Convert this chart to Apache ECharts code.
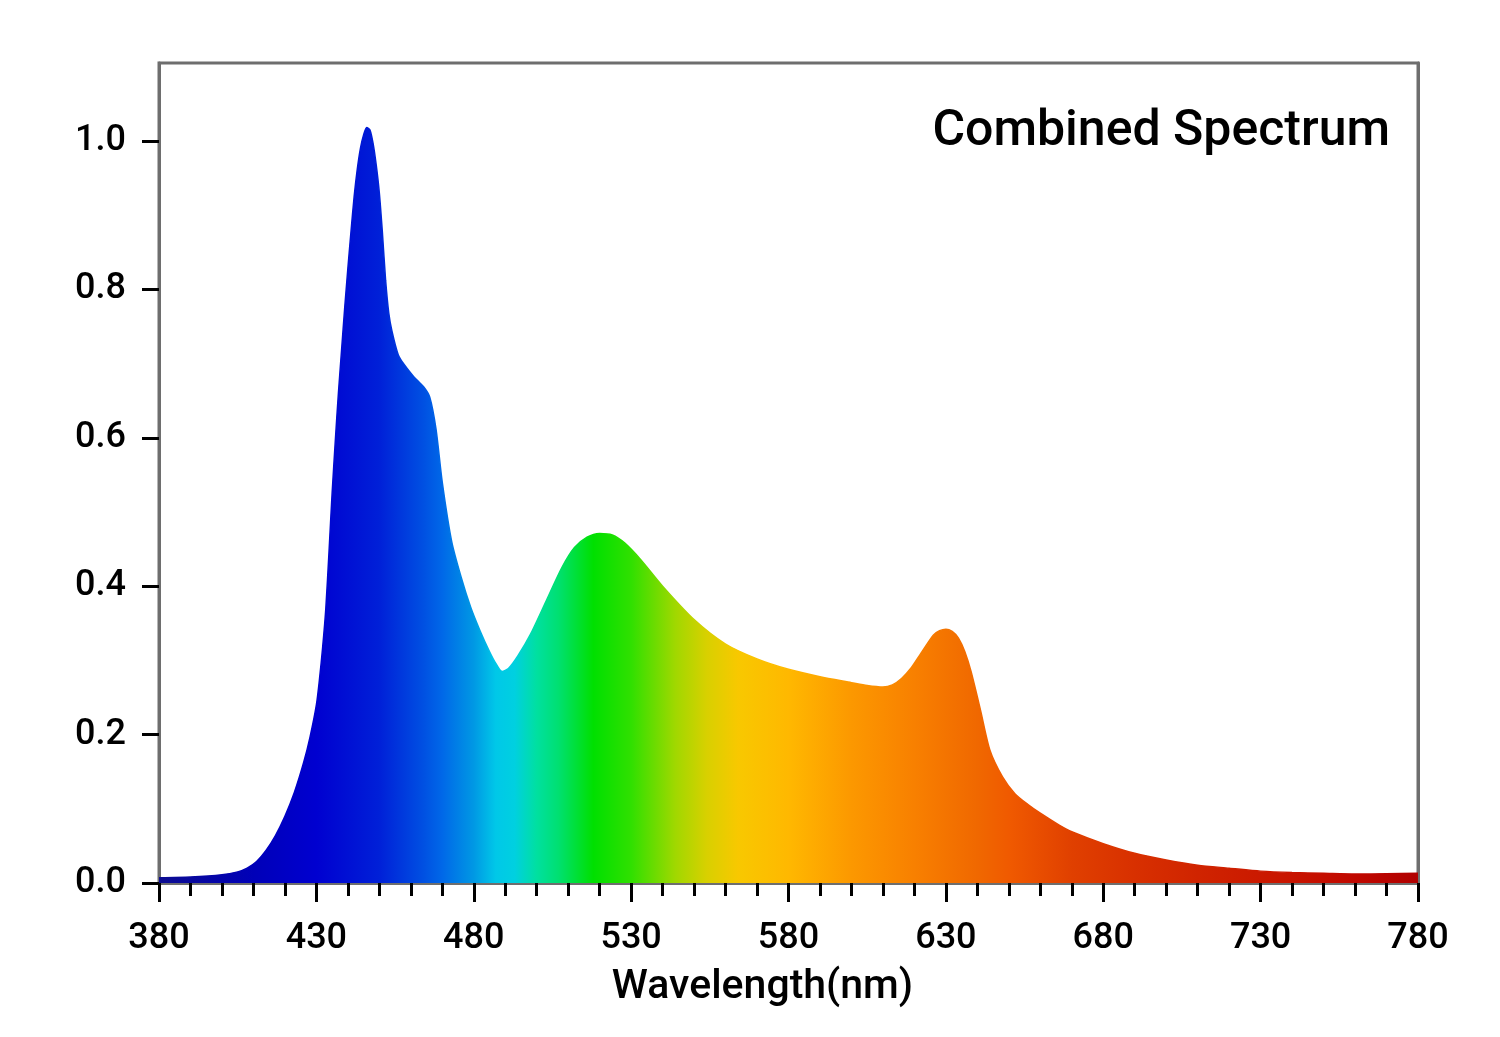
<!DOCTYPE html>
<html>
<head>
<meta charset="utf-8">
<title>Combined Spectrum</title>
<script src="https://cdn.jsdelivr.net/npm/echarts@6/dist/echarts.min.js"></script>
<style>
  html, body { margin: 0; padding: 0; background: #fff; }
  #main { width: 1500px; height: 1037px; }
</style>
</head>
<body>
<div id="main"></div>
<script>
// wavelengths (nm) and relative intensity
const wavelengths = [
  380, 390, 400, 405, 408, 411, 414, 417, 420, 423, 426, 428, 430, 431, 432, 433,
  434, 435, 436, 437, 438, 439, 440, 441, 442, 443, 444, 445, 446, 447, 448, 449,
  450, 451, 452, 453, 454, 456, 458, 461, 464, 466, 468, 470, 473, 476, 479, 482,
  485, 487, 489, 491, 494, 498, 503, 508, 512, 516, 520, 524, 528, 533, 540, 550,
  560, 570, 580, 590, 600, 605, 610, 613, 616, 619, 622, 626, 628, 630, 632, 634,
  636, 638, 641, 644, 648, 652, 656, 660, 666, 670, 680, 690, 700, 710, 720, 730,
  740, 750, 760, 770, 780
];
const intensity = [
  0.007, 0.008, 0.011, 0.015, 0.020, 0.029, 0.044, 0.064, 0.090, 0.122, 0.163, 0.197, 0.240, 0.275, 0.318, 0.370,
  0.445, 0.525, 0.595, 0.660, 0.718, 0.775, 0.828, 0.878, 0.925, 0.962, 0.990, 1.008, 1.018, 1.015, 0.997, 0.968,
  0.930, 0.875, 0.812, 0.768, 0.744, 0.712, 0.698, 0.682, 0.669, 0.655, 0.612, 0.540, 0.460, 0.412, 0.372, 0.340,
  0.312, 0.296, 0.285, 0.289, 0.306, 0.335, 0.380, 0.425, 0.452, 0.466, 0.471, 0.469, 0.458, 0.436, 0.400, 0.355,
  0.322, 0.302, 0.288, 0.278, 0.270, 0.266, 0.264, 0.267, 0.276, 0.290, 0.309, 0.334, 0.340, 0.342, 0.339, 0.330,
  0.312, 0.285, 0.233, 0.179, 0.143, 0.120, 0.106, 0.094, 0.078, 0.069, 0.053, 0.040, 0.031, 0.024, 0.020, 0.016,
  0.014, 0.013, 0.012, 0.0125, 0.013
];
const xTicks = [380, 430, 480, 530, 580, 630, 680, 730, 780];
const yTicks = [0, 0.2, 0.4, 0.6, 0.8, 1.0];

// spectrum colours along the wavelength axis
const stopNm = [380, 410, 430, 450, 464, 470, 480, 487, 493, 500, 507, 518, 530, 544, 554, 564, 580,
  600, 620, 640, 650, 670, 690, 710, 740, 760, 780];
const stopColors = ['#0c0c90', '#0000b8', '#0000d0', '#0020d8', '#0050e2', '#0068e8', '#0098e4', '#00c8e8',
  '#00d0e0', '#00e0a0', '#00e070', '#00e000', '#30e000', '#a0d800', '#d8d000', '#f8c800', '#ffb800',
  '#fc9800', '#f88000', '#f06800', '#f05a00', '#e04000', '#d83000', '#d02400', '#c81400', '#c00800', '#b00000'];

const spectrum = {
  type: 'linear', x: 0, y: 0, x2: 1, y2: 0,
  colorStops: stopNm.map((nm, i) => ({ offset: (nm - 380) / 400, color: stopColors[i] }))
};

var chartDom = document.getElementById('main');
var myChart = echarts.init(chartDom);
var font = 'Roboto, "Noto Sans", sans-serif';
var option = {
  backgroundColor: '#fff',
  animation: false,
  title: {
    text: 'Combined Spectrum',
    right: 110,
    top: 107,
    padding: 0,
    textStyle: { fontFamily: font, fontSize: 50, fontWeight: 500, color: '#000' }
  },
  grid: {
    left: 159, right: 82, top: 63, bottom: 154,
    show: true, borderColor: '#6e6e6e', borderWidth: 3
  },
  xAxis: [{
    type: 'value',
    min: 380, max: 780, interval: 50,
    name: 'Wavelength(nm)',
    nameLocation: 'middle',
    nameGap: 84,
    nameTextStyle: { fontFamily: font, fontSize: 41, fontWeight: 500, color: '#000', padding: [0, 52, 0, 0] },
    axisLine: { lineStyle: { color: '#6e6e6e', width: 3 } },
    axisTick: { show: true, inside: false, length: 19, lineStyle: { color: '#000', width: 3 } },
    minorTick: { show: true, splitNumber: 5, length: 13, lineStyle: { color: '#000', width: 3 } },
    axisLabel: {
      margin: 38, fontFamily: font, fontSize: 36, fontWeight: 500, color: '#000',
      customValues: xTicks
    },
    splitLine: { show: false }
  }, {
    type: 'value', position: 'top', min: 380, max: 780,
    axisLine: { show: true, lineStyle: { color: '#6e6e6e', width: 3 } },
    axisTick: { show: false }, axisLabel: { show: false }, splitLine: { show: false }
  }],
  yAxis: [{
    type: 'value',
    min: 0, max: 1.105,
    axisLine: { show: true, lineStyle: { color: '#6e6e6e', width: 3 } },
    axisTick: { show: true, length: 17, lineStyle: { color: '#000', width: 3 }, customValues: yTicks },
    axisLabel: {
      margin: 33, fontFamily: font, fontSize: 36, fontWeight: 500, color: '#000',
      customValues: yTicks,
      formatter: (v) => v.toFixed(1)
    },
    splitLine: { show: false }
  }, {
    type: 'value', position: 'right', min: 0, max: 1.105,
    axisLine: { show: true, lineStyle: { color: '#6e6e6e', width: 3 } },
    axisTick: { show: false }, axisLabel: { show: false }, splitLine: { show: false }
  }],
  series: [{
    type: 'line',
    xAxisIndex: 0,
    yAxisIndex: 0,
    data: wavelengths.map((w, i) => [w, intensity[i]]),
    smooth: 0.25,
    showSymbol: false,
    lineStyle: { color: spectrum, width: 1.5 },
    areaStyle: { color: spectrum, opacity: 1 },
    z: 1
  }]
};
option && myChart.setOption(option);
</script>
</body>
</html>
